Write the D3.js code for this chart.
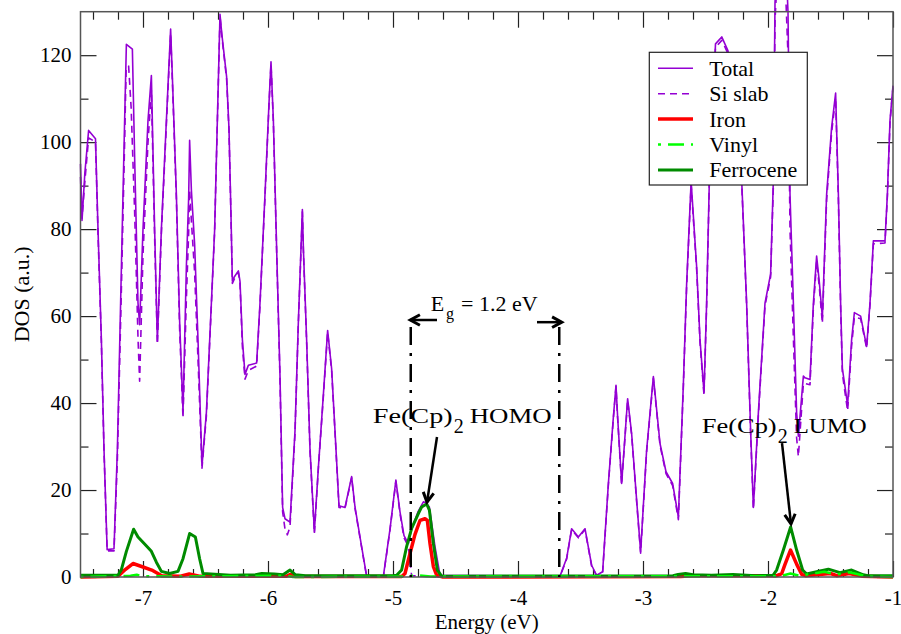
<!DOCTYPE html>
<html lang="en">

<head>
    <meta charset="UTF-8" />
    <title>DOS - Fe(Cp)2 on Si slab</title>
    <script src="https://d3js.org/d3.v7.min.js"></script>
    <style>
        body { margin: 0; background: #fff; }
        svg { display: block; }
        svg text { font-family: "Liberation Serif", "DejaVu Serif", serif; }
    </style>
</head>

<body>
    <script>
        // [energy (eV), DOS]
        var total = [
            [-7.50, 95.0], [-7.488, 82.0], [-7.465, 93.0], [-7.435, 102.7], [-7.38, 100.8], [-7.36, 80.0],
            [-7.333, 54.6], [-7.312, 29.4], [-7.287, 6.3], [-7.232, 6.5], [-7.205, 29.4], [-7.173, 71.0],
            [-7.147, 105.0], [-7.133, 122.5], [-7.085, 121.4], [-7.067, 96.6], [-7.04, 63.0], [-7.027, 58.0],
            [-7.0, 80.0], [-6.96, 105.0], [-6.933, 115.3], [-6.907, 80.0], [-6.885, 54.2], [-6.853, 80.0],
            [-6.813, 105.0], [-6.779, 126.0], [-6.765, 115.0], [-6.733, 88.0], [-6.707, 58.8], [-6.68, 38.2],
            [-6.653, 71.4], [-6.635, 87.0], [-6.627, 100.4], [-6.613, 89.0], [-6.587, 76.5], [-6.56, 54.6],
            [-6.528, 25.6], [-6.493, 37.8], [-6.453, 63.0], [-6.427, 79.8], [-6.384, 129.4], [-6.37, 125.0],
            [-6.331, 115.0], [-6.312, 103.0], [-6.296, 83.0], [-6.285, 68.0], [-6.27, 69.0], [-6.237, 70.4],
            [-6.224, 68.0], [-6.205, 54.6], [-6.184, 46.6], [-6.157, 48.7], [-6.091, 49.2], [-6.064, 63.0],
            [-6.024, 88.0], [-5.992, 109.0], [-5.976, 118.5], [-5.957, 105.0], [-5.931, 75.6], [-5.904, 46.2],
            [-5.883, 16.0], [-5.864, 13.4], [-5.824, 12.6], [-5.784, 33.6], [-5.757, 58.8], [-5.736, 75.6],
            [-5.725, 84.5], [-5.717, 75.6], [-5.691, 54.6], [-5.664, 29.4], [-5.629, 10.5], [-5.597, 25.2],
            [-5.557, 42.0], [-5.523, 56.7], [-5.491, 47.9], [-5.464, 33.6], [-5.432, 16.4], [-5.384, 16.0],
            [-5.331, 23.1], [-5.304, 16.1], [-5.251, 7.0], [-5.211, 0.2], [-5.077, 0.2], [-5.024, 11.0],
            [-4.977, 22.3], [-4.944, 15.0], [-4.912, 9.5], [-4.877, 7.7], [-4.851, 11.0], [-4.80, 15.0],
            [-4.757, 17.3], [-4.736, 17.0], [-4.709, 16.1], [-4.664, 7.0], [-4.624, 0.4], [-3.664, 0.2],
            [-3.611, 4.3], [-3.571, 11.1], [-3.517, 9.2], [-3.464, 11.1], [-3.411, 2.7], [-3.371, 0.4],
            [-3.323, 1.2], [-3.277, 21.5], [-3.237, 36.8], [-3.216, 44.1], [-3.203, 36.8], [-3.171, 21.5],
            [-3.123, 41.0], [-3.091, 33.0], [-3.051, 17.7], [-3.019, 5.8], [-2.971, 29.2], [-2.917, 46.1],
            [-2.864, 30.7], [-2.816, 24.2], [-2.763, 21.5], [-2.717, 13.8], [-2.677, 44.5], [-2.651, 67.4],
            [-2.615, 91.0], [-2.571, 71.4], [-2.544, 54.6], [-2.512, 42.4], [-2.491, 63.0], [-2.469, 91.6],
            [-2.42, 122.6], [-2.37, 124.2], [-2.32, 121.0], [-2.211, 91.6], [-2.171, 63.0], [-2.139, 33.6],
            [-2.117, 16.0], [-2.077, 37.8], [-2.024, 63.0], [-1.979, 69.7], [-1.957, 91.6], [-1.944, 132.0],
            [-1.89, 165.0], [-1.84, 130.0], [-1.824, 88.0], [-1.797, 63.0], [-1.771, 37.8], [-1.757, 32.4],
            [-1.717, 46.2], [-1.704, 45.8], [-1.664, 45.4], [-1.637, 63.0], [-1.611, 73.8], [-1.59, 68.0],
            [-1.565, 59.7], [-1.531, 88.0], [-1.491, 103.4], [-1.459, 111.3], [-1.437, 88.0], [-1.419, 63.0],
            [-1.405, 47.9], [-1.384, 43.7], [-1.363, 39.5], [-1.331, 54.6], [-1.309, 60.8], [-1.259, 60.0],
            [-1.211, 53.0], [-1.184, 63.0], [-1.157, 77.3], [-1.064, 77.3], [-1.045, 88.0], [-1.024, 105.0],
            [-1.0, 113.0]
        ];

        var siSlab = [
            [-7.50, 92.0], [-7.488, 82.5], [-7.465, 91.0], [-7.435, 101.0], [-7.38, 100.0], [-7.36, 79.0],
            [-7.333, 54.0], [-7.312, 29.0], [-7.287, 6.0], [-7.232, 6.0], [-7.205, 27.0], [-7.173, 66.0],
            [-7.147, 100.0], [-7.135, 117.0], [-7.115, 117.5], [-7.095, 108.0], [-7.067, 84.0], [-7.04, 55.0],
            [-7.027, 45.0], [-7.0, 74.0], [-6.96, 100.0], [-6.933, 112.0], [-6.907, 78.0], [-6.885, 53.5],
            [-6.853, 79.0], [-6.813, 104.0], [-6.779, 125.0], [-6.765, 114.0], [-6.733, 87.0], [-6.707, 57.0],
            [-6.68, 36.5], [-6.653, 64.0], [-6.635, 79.0], [-6.627, 89.0], [-6.613, 82.0], [-6.587, 70.0],
            [-6.56, 50.0], [-6.528, 25.0], [-6.493, 37.0], [-6.453, 62.5], [-6.427, 79.5], [-6.384, 129.0],
            [-6.37, 124.5], [-6.331, 114.5], [-6.312, 102.5], [-6.296, 82.5], [-6.285, 67.5], [-6.27, 68.5],
            [-6.237, 70.0], [-6.224, 67.5], [-6.205, 53.0], [-6.184, 45.5], [-6.157, 47.5], [-6.091, 48.5],
            [-6.064, 62.5], [-6.024, 87.5], [-5.992, 108.5], [-5.976, 118.0], [-5.957, 104.5], [-5.931, 75.0],
            [-5.904, 45.5], [-5.883, 15.0], [-5.864, 11.0], [-5.845, 9.7], [-5.824, 11.5], [-5.784, 33.0],
            [-5.757, 58.5], [-5.736, 75.0], [-5.725, 84.0], [-5.717, 75.0], [-5.691, 54.0], [-5.664, 29.0],
            [-5.629, 10.0], [-5.597, 25.0], [-5.557, 41.5], [-5.523, 56.3], [-5.491, 47.5], [-5.464, 33.3],
            [-5.432, 16.0], [-5.384, 15.8], [-5.331, 22.8], [-5.304, 15.8], [-5.251, 6.8], [-5.211, 0.1],
            [-5.077, 0.1], [-5.024, 10.8], [-4.977, 22.0], [-4.944, 14.6], [-4.912, 9.0], [-4.877, 7.0],
            [-4.851, 0.3], [-4.62, 0.0], [-3.664, 0.1], [-3.611, 4.1], [-3.571, 10.9], [-3.517, 9.0],
            [-3.464, 10.9], [-3.411, 2.5], [-3.371, 0.3], [-3.323, 1.0], [-3.277, 21.2], [-3.237, 36.5],
            [-3.216, 43.8], [-3.203, 36.5], [-3.171, 21.2], [-3.123, 40.6], [-3.091, 32.7], [-3.051, 17.4],
            [-3.019, 5.5], [-2.971, 28.8], [-2.917, 45.7], [-2.864, 30.3], [-2.816, 23.8], [-2.763, 21.0],
            [-2.717, 13.2], [-2.677, 43.8], [-2.651, 66.8], [-2.615, 90.2], [-2.571, 70.8], [-2.544, 54.0],
            [-2.512, 41.8], [-2.491, 62.4], [-2.469, 91.0], [-2.42, 121.8], [-2.37, 123.4], [-2.32, 120.4],
            [-2.211, 91.0], [-2.171, 62.4], [-2.139, 33.0], [-2.117, 15.6], [-2.077, 37.2], [-2.024, 62.4],
            [-1.979, 69.0], [-1.957, 90.0], [-1.944, 128.0], [-1.89, 158.0], [-1.84, 120.0], [-1.824, 80.0],
            [-1.797, 55.0], [-1.771, 32.0], [-1.757, 27.7], [-1.717, 44.5], [-1.704, 44.5], [-1.664, 44.2],
            [-1.637, 61.8], [-1.611, 72.6], [-1.59, 66.8], [-1.565, 58.3], [-1.531, 86.8], [-1.491, 102.2],
            [-1.459, 110.2], [-1.437, 86.8], [-1.419, 61.8], [-1.405, 46.8], [-1.384, 42.4], [-1.363, 38.2],
            [-1.331, 53.2], [-1.309, 59.8], [-1.259, 59.4], [-1.211, 52.6], [-1.184, 62.6], [-1.157, 76.6],
            [-1.064, 76.8], [-1.045, 87.5], [-1.024, 104.5], [-1.0, 112.6]
        ];

        var iron = [
            [-7.50, 0.0], [-7.20, 0.2], [-7.15, 1.5], [-7.08, 3.1], [-7.00, 2.3], [-6.93, 1.6], [-6.85, 0.3],
            [-6.70, 0.2], [-6.63, 0.7], [-6.55, 0.2], [-5.85, 0.2], [-5.82, 0.6], [-5.78, 0.1], [-4.93, 0.1],
            [-4.904, 0.8], [-4.864, 5.4], [-4.824, 9.8], [-4.784, 13.0], [-4.744, 13.4], [-4.725, 13.0],
            [-4.704, 7.7], [-4.677, 2.4], [-4.65, 0.4], [-4.60, 0.0], [-2.70, 0.1], [-2.60, 0.3], [-1.93, 0.3],
            [-1.89, 0.8], [-1.864, 2.9], [-1.82, 6.2], [-1.77, 2.9], [-1.73, 0.6], [-1.70, 0.3], [-1.50, 0.8],
            [-1.45, 0.3], [-1.35, 0.8], [-1.25, 0.2], [-1.00, 0.0]
        ];

        var vinyl = [
            [-7.50, 0.0], [-7.10, 0.3], [-7.05, 0.5], [-7.00, 0.2], [-6.70, 0.1], [-5.85, 0.3], [-5.80, 0.0],
            [-4.90, 0.1], [-4.80, 0.4], [-4.70, 0.1], [-1.90, 0.2], [-1.82, 0.8], [-1.75, 0.3], [-1.55, 1.2],
            [-1.45, 0.6], [-1.35, 1.1], [-1.20, 0.1], [-1.00, 0.0]
        ];

        var ferrocene = [
            [-7.50, 0.4], [-7.20, 0.4], [-7.173, 1.7], [-7.133, 5.9], [-7.075, 11.0], [-7.04, 9.2],
            [-6.987, 7.6], [-6.933, 5.9], [-6.893, 3.4], [-6.853, 1.3], [-6.787, 0.8], [-6.72, 1.3],
            [-6.68, 4.2], [-6.627, 10.0], [-6.581, 9.2], [-6.547, 4.2], [-6.52, 0.8], [-6.30, 0.4],
            [-6.10, 0.5], [-6.05, 0.8], [-5.95, 0.7], [-5.88, 0.5], [-5.824, 1.6], [-5.78, 0.5], [-5.70, 0.3],
            [-5.00, 0.3], [-4.971, 0.4], [-4.931, 1.6], [-4.891, 7.0], [-4.851, 11.2], [-4.797, 14.6],
            [-4.771, 16.1], [-4.731, 16.8], [-4.709, 15.4], [-4.677, 7.7], [-4.645, 1.6], [-4.611, 0.2],
            [-2.76, 0.3], [-2.72, 0.6], [-2.66, 0.8], [-2.60, 0.5], [-2.45, 0.4], [-2.28, 0.6], [-2.10, 0.3],
            [-1.96, 0.4], [-1.931, 1.6], [-1.877, 6.2], [-1.819, 11.5], [-1.771, 6.2], [-1.723, 1.6],
            [-1.691, 0.7], [-1.611, 1.2], [-1.517, 1.8], [-1.424, 1.0], [-1.331, 1.6], [-1.237, 0.5],
            [-1.20, 0.3], [-1.00, 0.3]
        ];

        var seriesNames = ["Total", "Si slab", "Iron", "Vinyl", "Ferrocene"];
        var xTicks = [-7, -6, -5, -4, -3, -2, -1];
        var yTicks = [0, 20, 40, 60, 80, 100, 120];

        var w = 901;
        var h = 634;
        var plotLeft = 80.5, plotRight = 893, plotTop = 11.7, plotBottom = 577;

        var xScale = d3.scaleLinear().domain([-7.5, -1]).range([plotLeft, plotRight]);
        var yScale = d3.scaleLinear().domain([0, 130]).range([plotBottom, plotTop]);

        var xMinor = d3.range(-7.4, -1, 0.2).filter(function (v) { return Math.abs(v - Math.round(v)) > 0.01; });
        var yMinor = [10, 30, 50, 70, 90, 110];

        var svg = d3.select("body").append("svg").attr("width", w).attr("height", h);

        // line styles, one per series
        var styles = [
            { data: total, color: "#9400d3", width: 1.6, dash: null },
            { data: siSlab, color: "#9400d3", width: 1.6, dash: "7,5" },
            { data: iron, color: "#ff0000", width: 3.5, dash: null },
            { data: ferrocene, color: "#008b00", width: 3, dash: null },
            { data: vinyl, color: "#00ff00", width: 2.5, dash: "3,7,16,7" }
        ];

        var line = d3.line()
            .x(function (d) { return xScale(d[0]); })
            .y(function (d) { return yScale(d[1]); });

        // axes (ticks point inward on all four sides)
        function styleAxis(g) {
            g.select(".domain").remove();
            g.attr("font-family", "Liberation Serif").attr("font-size", 21);
            g.selectAll(".tick line").attr("stroke", "#222").attr("stroke-width", 1.2);
        }
        var fmt = function (d) { return String(d); };

        svg.append("g").attr("transform", "translate(0," + plotBottom + ")")
            .call(d3.axisBottom(xScale).tickValues(xTicks).tickSizeInner(-16).tickSizeOuter(0).tickPadding(13.5).tickFormat(fmt))
            .call(styleAxis);
        svg.append("g").attr("transform", "translate(0," + plotBottom + ")")
            .call(d3.axisBottom(xScale).tickValues(xMinor).tickSizeInner(-8).tickSizeOuter(0).tickFormat(""))
            .call(styleAxis);
        svg.append("g").attr("transform", "translate(0," + plotTop + ")")
            .call(d3.axisTop(xScale).tickValues(xTicks).tickSizeInner(-16).tickSizeOuter(0).tickFormat(""))
            .call(styleAxis);
        svg.append("g").attr("transform", "translate(0," + plotTop + ")")
            .call(d3.axisTop(xScale).tickValues(xMinor).tickSizeInner(-8).tickSizeOuter(0).tickFormat(""))
            .call(styleAxis);
        svg.append("g").attr("transform", "translate(" + plotLeft + ",0)")
            .call(d3.axisLeft(yScale).tickValues(yTicks).tickSizeInner(-16).tickSizeOuter(0).tickPadding(9).tickFormat(fmt))
            .call(styleAxis);
        svg.append("g").attr("transform", "translate(" + plotLeft + ",0)")
            .call(d3.axisLeft(yScale).tickValues(yMinor).tickSizeInner(-8).tickSizeOuter(0).tickFormat(""))
            .call(styleAxis);
        svg.append("g").attr("transform", "translate(" + plotRight + ",0)")
            .call(d3.axisRight(yScale).tickValues(yTicks).tickSizeInner(-16).tickSizeOuter(0).tickFormat(""))
            .call(styleAxis);
        svg.append("g").attr("transform", "translate(" + plotRight + ",0)")
            .call(d3.axisRight(yScale).tickValues(yMinor).tickSizeInner(-8).tickSizeOuter(0).tickFormat(""))
            .call(styleAxis);

        // series
        svg.selectAll("path.series")
            .data(styles)
            .enter()
            .append("path")
            .attr("class", "series")
            .attr("d", function (d) { return line(d.data); })
            .attr("fill", "none")
            .attr("stroke", function (d) { return d.color; })
            .attr("stroke-width", function (d) { return d.width; })
            .attr("stroke-dasharray", function (d) { return d.dash; })
            .attr("stroke-linejoin", "round");

        // frame
        svg.append("rect")
            .attr("x", plotLeft).attr("y", plotTop)
            .attr("width", plotRight - plotLeft).attr("height", plotBottom - plotTop)
            .attr("fill", "none").attr("stroke", "#555").attr("stroke-width", 1.5);

        // band gap markers
        var gapEdges = [-4.858, -3.670];
        svg.selectAll("line.gap")
            .data(gapEdges)
            .enter()
            .append("line")
            .attr("class", "gap")
            .attr("x1", function (d) { return xScale(d); })
            .attr("x2", function (d) { return xScale(d); })
            .attr("y1", yScale(57.5))
            .attr("y2", yScale(0))
            .attr("stroke", "#000")
            .attr("stroke-width", 2.5)
            .attr("stroke-dasharray", "18,8,3,8");

        function arrow(x1, y1, x2, y2) {
            var a = Math.atan2(y2 - y1, x2 - x1);
            var len = 11, spread = 0.5;
            svg.append("line")
                .attr("x1", x1).attr("y1", y1).attr("x2", x2).attr("y2", y2)
                .attr("stroke", "#000").attr("stroke-width", 2.5);
            svg.append("polyline")
                .attr("points", [
                    [x2 - len * Math.cos(a - spread), y2 - len * Math.sin(a - spread)],
                    [x2, y2],
                    [x2 - len * Math.cos(a + spread), y2 - len * Math.sin(a + spread)]
                ].join(" "))
                .attr("fill", "none").attr("stroke", "#000").attr("stroke-width", 3)
                .attr("stroke-linejoin", "miter");
        }

        arrow(xScale(-4.648), yScale(59.1), xScale(-4.862), yScale(59.1));
        arrow(xScale(-3.848), yScale(58.6), xScale(-3.650), yScale(58.6));
        arrow(xScale(-4.648), yScale(32.2), xScale(-4.728), yScale(17.2));
        arrow(xScale(-1.888), yScale(30.8), xScale(-1.816), yScale(12.2));

        // E_g label
        var eg = svg.append("text").attr("font-size", 22).attr("fill", "#000");
        eg.append("tspan").attr("x", 430.7).attr("y", 310.7).text("E");
        eg.append("tspan").attr("x", 446).attr("y", 319).attr("font-size", 16).text("g");
        eg.append("tspan").attr("x", 461).attr("y", 310.7).text("= 1.2 eV");

        // HOMO / LUMO labels
        function orbital(xs, base, word, wordLen, firstLen) {
            var t = svg.append("text").attr("font-size", 22).attr("fill", "#000");
            t.append("tspan").attr("x", xs).attr("y", base)
                .attr("textLength", firstLen).attr("lengthAdjust", "spacingAndGlyphs").text("Fe(Cp)");
            t.append("tspan").attr("x", xs + firstLen + 1).attr("y", base + 10).attr("font-size", 20).text("2");
            t.append("tspan").attr("x", xs + firstLen + 17).attr("y", base)
                .attr("textLength", wordLen).attr("lengthAdjust", "spacingAndGlyphs").text(word);
        }
        orbital(372.7, 423.3, "HOMO", 82, 80);
        orbital(701.7, 433.3, "LUMO", 73, 75);

        // legend
        var legend = svg.append("g");
        legend.append("rect")
            .attr("x", 649.3).attr("y", 52.3).attr("width", 158).attr("height", 132.7)
            .attr("fill", "#fff").attr("stroke", "#222").attr("stroke-width", 1.2);
        var legendOrder = [0, 1, 2, 4, 3];
        var rows = legend.selectAll("g.row")
            .data(seriesNames)
            .enter()
            .append("g")
            .attr("class", "row")
            .attr("transform", function (d, i) { return "translate(0," + (68.3 + i * 25.4) + ")"; });
        rows.append("line")
            .attr("x1", 658).attr("x2", 693).attr("y1", 0).attr("y2", 0)
            .attr("stroke", function (d, i) { return styles[legendOrder[i]].color; })
            .attr("stroke-width", function (d, i) { return styles[legendOrder[i]].width; })
            .attr("stroke-dasharray", function (d, i) { return styles[legendOrder[i]].dash; });
        rows.append("text")
            .attr("x", 709.3).attr("y", 7.5)
            .attr("font-size", 22)
            .text(function (d) { return d; });

        // axis titles
        svg.append("text")
            .attr("x", (plotLeft + plotRight) / 2).attr("y", 628.5)
            .attr("text-anchor", "middle").attr("font-size", 21)
            .text("Energy (eV)");
        svg.append("text")
            .attr("transform", "translate(29," + ((plotTop + plotBottom) / 2) + ") rotate(-90)")
            .attr("text-anchor", "middle").attr("font-size", 22)
            .text("DOS (a.u.)");
    </script>
</body>

</html>
